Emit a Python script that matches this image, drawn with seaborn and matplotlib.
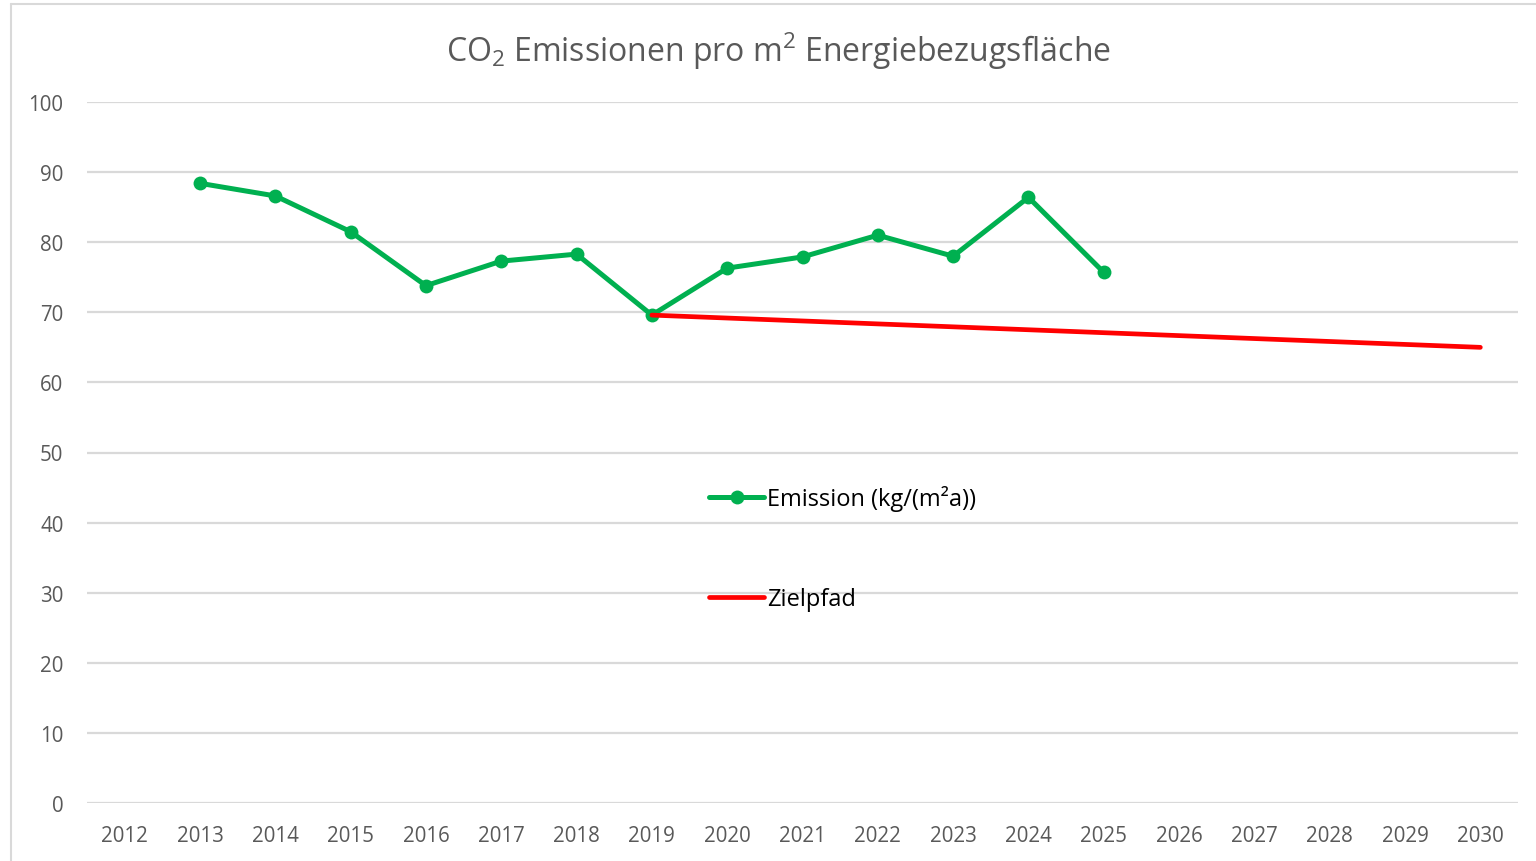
import matplotlib
matplotlib.use("Agg")
import matplotlib.pyplot as plt
from matplotlib.lines import Line2D
import seaborn as sns
import pandas as pd

# ---- data ----
years = list(range(2012, 2031))
emission_years = [2013, 2014, 2015, 2016, 2017, 2018, 2019, 2020, 2021, 2022, 2023, 2024, 2025]
emission_values = [88.4, 86.6, 81.5, 73.8, 77.3, 78.3, 69.6, 76.3, 77.9, 81.0, 78.0, 86.4, 75.7]
target_years = [2019, 2030]
target_values = [69.6, 65.0]
y_ticks = [0, 10, 20, 30, 40, 50, 60, 70, 80, 90, 100]
title = r"CO$_2$ Emissionen pro m$^2$ Energiebezugsfläche"
label_emission = "Emission (kg/(m²a))"
label_target = "Zielpfad"

sns.set_theme(style="white")
plt.rcParams["font.family"] = ["Open Sans", "DejaVu Sans"]
plt.rcParams["mathtext.fontset"] = "custom"
plt.rcParams["mathtext.rm"] = "Open Sans"
plt.rcParams["mathtext.it"] = "Open Sans"
plt.rcParams["mathtext.bf"] = "Open Sans"

fig = plt.figure(figsize=(15.36, 8.62), dpi=100)
ax = fig.add_axes([87 / 1536, 1 - 804 / 862, (1518 - 87) / 1536, (804 - 103) / 862])

df_e = pd.DataFrame({"year": emission_years, "value": emission_values})
df_t = pd.DataFrame({"year": target_years, "value": target_values})

sns.lineplot(data=df_e, x="year", y="value", ax=ax, color="#00B050", linewidth=3.6,
             marker="o", markersize=10, markeredgewidth=0, label=label_emission,
             zorder=3, solid_capstyle="round")
sns.lineplot(data=df_t, x="year", y="value", ax=ax, color="#FF0000", linewidth=3.4,
             label=label_target, zorder=4, solid_capstyle="round")

ax.set_xlim(years[0] - 0.5, years[-1] + 0.5)
ax.set_ylim(0, 100)
ax.set_xticks(years)
ax.set_xticklabels([str(y) for y in years])
ax.set_yticks(y_ticks)
ax.set_yticklabels([str(v) for v in y_ticks])
ax.set_xlabel("")
ax.set_ylabel("")
ax.grid(axis="y", color="#D9D9D9", linewidth=1.6)
ax.grid(axis="x", visible=False)
ax.set_axisbelow(True)
for s in ax.spines.values():
    s.set_visible(False)
ax.tick_params(axis="x", length=0, pad=16, labelsize=14.8, labelcolor="#595959")
ax.tick_params(axis="y", length=0, pad=17, labelsize=14.8, labelcolor="#595959")

fig.text(778 / 1536, 1 - 51 / 862, title, ha="center", va="center",
         fontsize=23, color="#595959")

leg = ax.legend(loc="center left", bbox_to_anchor=(709 / 1536, 1 - 549 / 862),
                bbox_transform=fig.transFigure, frameon=False, fontsize=17,
                handlelength=2.35, handletextpad=0.12, labelspacing=3.2,
                borderpad=0, borderaxespad=0)
for t in leg.get_texts():
    t.set_color("black")

# chart frame
fig.add_artist(Line2D([11 / 1536, 11 / 1536], [0, 1 - 5 / 862], transform=fig.transFigure,
                      color="#D9D9D9", linewidth=1.5))
fig.add_artist(Line2D([11 / 1536, 1], [1 - 5 / 862, 1 - 5 / 862], transform=fig.transFigure,
                      color="#D9D9D9", linewidth=1.5))

fig.savefig("out.png", dpi=100)
